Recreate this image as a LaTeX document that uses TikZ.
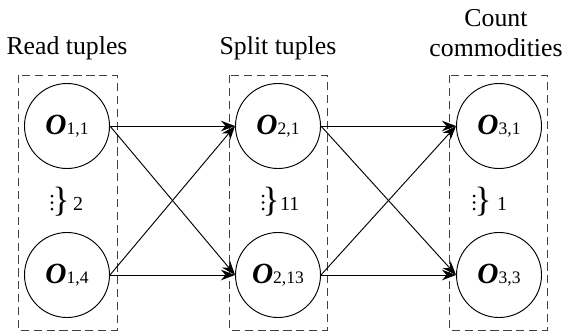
\documentclass[tikz,border=0pt]{standalone}
\usepackage{amsmath}
\usepackage{fontspec}
\setmainfont{Liberation Serif}
\usepackage{tikz}
\usetikzlibrary{arrows.meta}

\newcommand{\opname}[1]{{\fontsize{25}{25}\selectfont\bfseries\itshape O}{\fontsize{15}{15}\selectfont #1}}

\begin{document}
\begin{tikzpicture}[
        x=0.03cm, y=-0.03cm,
        font=\rmfamily,
        >={Stealth[length=12pt,width=9pt]},
        op/.style={draw, circle, thick, minimum size=2.55cm, inner sep=0pt},
        stage/.style={draw=black!75, thick, dash pattern=on 7pt off 4pt},
        title/.style={font=\rmfamily\fontsize{22}{26}\selectfont, align=center},
        brace/.style={font=\rmfamily\fontsize{30}{30}\selectfont, inner sep=0pt},
        count/.style={font=\rmfamily\fontsize{17}{20}\selectfont, inner sep=0pt, anchor=west},
        arr/.style={->, thick}
      ]
        \useasboundingbox (0,0) rectangle (565,335);

        \draw[stage] (18,75) rectangle (117,330);
        \draw[stage] (229,75) rectangle (327,330);
        \draw[stage] (449,75) rectangle (547,330);

        \node[title] (read)  at (67,48)  {Read tuples};
        \node[title] (split) at (278,48) {Split tuples};
        \node[title] (count) at (496,33) {Count\\commodities};

        \node[op] (o11) at (67,126)  {\opname{1,1}};
        \node[op] (o14) at (67,275)  {\opname{1,4}};
        \node[op] (o21) at (278,126) {\opname{2,1}};
        \node[op] (o213) at (278,275) {\opname{2,13}};
        \node[op] (o31) at (499,126) {\opname{3,1}};
        \node[op] (o33) at (499,275) {\opname{3,3}};

        % vertical dots
        \foreach \x in {52,263,474}
          \foreach \y in {196,202.5,209}
            \fill (\x,\y) circle (1.5);

        \node[brace] (b1) at (61,202) {\}};
        \node[count] (n1) at (73,204) {2};
        \node[brace] (b2) at (271,202) {\}};
        \node[count] (n2) at (280,204) {11};
        \node[brace] (b3) at (483,202) {\}};
        \node[count] (n3) at (497,204) {1};

        \draw[arr] (o11.east) -- (o21.west);
        \draw[arr] (o11.east) -- (o213.west);
        \draw[arr] (o14.east) -- (o21.west);
        \draw[arr] (o14.east) -- (o213.west);
        \draw[arr] (o21.east) -- (o31.west);
        \draw[arr] (o21.east) -- (o33.west);
        \draw[arr] (o213.east) -- (o31.west);
        \draw[arr] (o213.east) -- (o33.west);
      \end{tikzpicture}
\end{document}
